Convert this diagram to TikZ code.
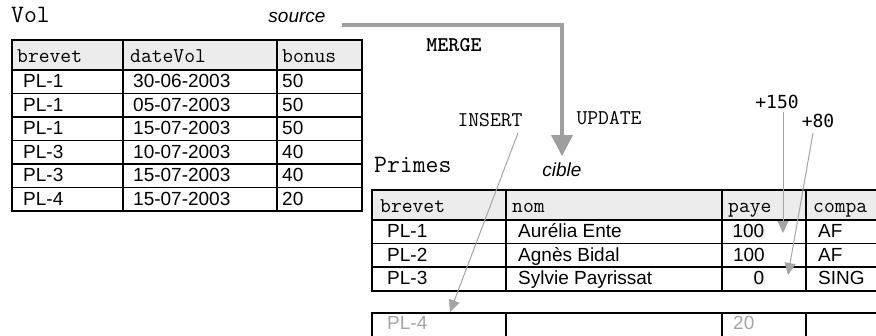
\documentclass[tikz,border=0pt]{standalone}
\usepackage{fontspec}
\setmainfont{Liberation Sans}
\newfontfamily\deltafont{DejaVu Sans Mono}
\usetikzlibrary{arrows.meta}
\definecolor{hdrgray}{RGB}{236,236,236}
\definecolor{flowgray}{RGB}{158,158,158}
\definecolor{hintgray}{RGB}{165,165,165}
\definecolor{newgray}{RGB}{165,165,165}

\begin{document}
\begin{tikzpicture}[
        x=1pt,y=-1pt,
        tline/.style={draw,line width=1.7pt},
        hdr/.style={anchor=base west,inner sep=0pt,
                    font=\fontsize{21}{21}\ttfamily},
        cell/.style={anchor=base west,inner sep=0pt,
                     font=\fontsize{19}{19}\selectfont},
        tname/.style={anchor=base west,inner sep=0pt,
                      font=\fontsize{25}{25}\ttfamily},
        op/.style={font=\fontsize{21}{21}\ttfamily,inner sep=1pt},
        role/.style={font=\fontsize{19}{19}\selectfont\itshape,inner sep=2pt},
        delta/.style={font=\fontsize{18}{18}\deltafont,inner sep=1pt},
        flow/.style={draw=flowgray,line width=4pt,
                     -{Triangle[length=21pt,width=21pt]}},
        hint/.style={draw=hintgray,line width=1pt,
                     -{Triangle[length=12pt,width=11pt]}}
      ]
        \useasboundingbox (0,0) rectangle (876,335);
        \clip (0,0) rectangle (876,335);
        % table Vol
        \node[tname] (vol) at (11,22){Vol};
        \fill[hdrgray] (12,40) rectangle (362,70);
        \draw[tline] (12,40) rectangle (362,211);
        \foreach \y in {70,93.5,117,140.5,164,187.5}
          \draw[tline] (12,\y) -- (362,\y);
        \draw[tline] (123,40) -- (123,211);
        \draw[tline] (277,40) -- (277,211);
        \node[hdr] (vbh) at (17,62){brevet};
        \node[hdr] (vdh) at (130,62){dateVol};
        \node[hdr] (vnh) at (282,62){bonus};
        \foreach \b/\d/\n [count=\i] in {PL-1/30-06-2003/50,
            PL-1/05-07-2003/50,PL-1/15-07-2003/50,PL-3/10-07-2003/40,
            PL-3/15-07-2003/40,PL-4/15-07-2003/20}{
          \node[cell] (vb\i) at (23,{64+23.5*\i}){\b};
          \node[cell] (vd\i) at (133,{64+23.5*\i}){\d};
          \node[cell] (vn\i) at (282,{64+23.5*\i}){\n};
        }
        % table Primes
        \node[tname] (primes) at (374,172){Primes};
        \fill[hdrgray] (372,190) rectangle (890,220);
        \draw[tline] (372,190) rectangle (890,291);
        \draw[tline] (372,220) -- (890,220);
        \draw[tline] (372,243.5) -- (890,243.5);
        \draw[tline] (372,267) -- (890,267);
        \foreach \x in {506,722,806}
          \draw[tline] (\x,190) -- (\x,291);
        \node[hdr] (pbh) at (380,212){brevet};
        \node[hdr] (pnh) at (512,212){nom};
        \node[hdr] (pph) at (728,212){paye};
        \node[hdr] (pch) at (813,212){compa};
        \node[cell] (pb1) at (387,237.5){PL-1};
        \node[cell] (pn1) at (518,237.5){Aurélia Ente};
        \node[cell,anchor=base east,fill=black!5,inner sep=0.5pt]
          (pp1) at (765,237.5){100};
        \node[cell] (pc1) at (818,237.5){AF};
        \node[cell] (pb2) at (387,261){PL-2};
        \node[cell] (pn2) at (518,261){Agnès Bidal};
        \node[cell,anchor=base east] (pp2) at (765,261){100};
        \node[cell] (pc2) at (818,261){AF};
        \node[cell] (pb3) at (387,284.5){PL-3};
        \node[cell] (pn3) at (518,284.5){Sylvie Payrissat};
        \node[cell,anchor=base east,fill=black!5,inner sep=0.5pt]
          (pp3) at (765,284.5){0};
        \node[cell] (pc3) at (818,284.5){SING};
        % inserted row
        \draw[tline] (372,313) rectangle (890,345);
        \foreach \x in {506,722,806}
          \draw[tline] (\x,313) -- (\x,345);
        \node[cell,text=newgray] (pb4) at (387,329){PL-4};
        \node[cell,text=newgray] (pp4) at (733,329){20};
        % merge flow
        \node[role] (src) at (297,17){source};
        \node[role,anchor=base] (cib) at (562,176){cible};
        \node[op,font=\fontsize{21}{21}\ttfamily\bfseries]
          (mrg) at (454,45){MERGE};
        \node[op] (ins) at (490,120){INSERT};
        \node[op] (upd) at (609,118){UPDATE};
        \node[delta] (d150) at (777,102){+150};
        \node[delta] (d80) at (818,121){+80};
        \coordinate (tgt4) at (450,312);
        \coordinate (tgt1) at (783,233);
        \coordinate (tgt3) at (788,275);
        \draw[flow] ([xshift=14pt,yshift=-8pt]src.east) -| ([yshift=4pt]cib.north);
        \draw[hint] ([xshift=28pt,yshift=-5pt]ins.south) -- (tgt4);
        \draw[hint] ([xshift=6pt,yshift=-2pt]d150.south) -- (tgt1);
        \draw[hint] ([xshift=-5pt,yshift=-4pt]d80.south) -- (tgt3);
      \end{tikzpicture}
\end{document}
